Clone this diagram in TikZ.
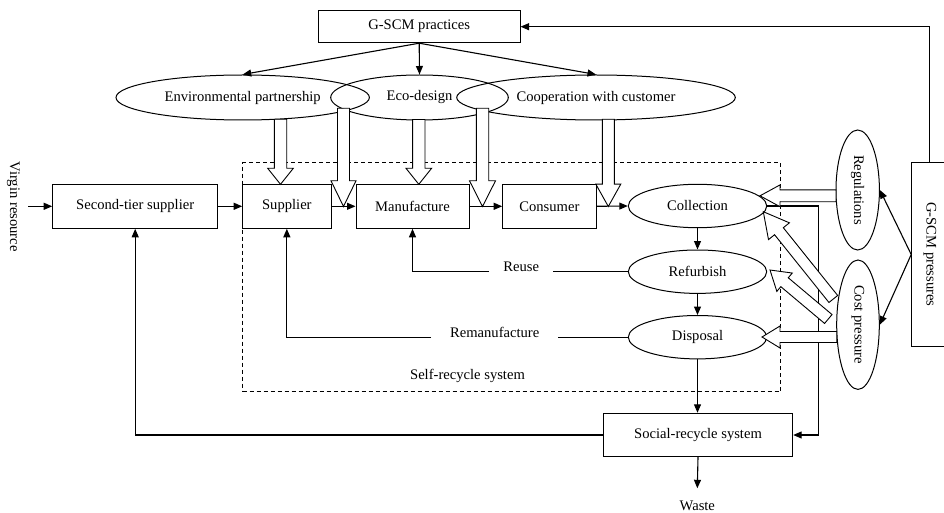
\documentclass[tikz,border=0pt]{standalone}
\usepackage{fontspec}
\setmainfont{Liberation Serif}
\usepackage{graphicx}
\usetikzlibrary{shapes.geometric,arrows.meta,calc}
\tikzset{
  txt/.style={font=\fontsize{14.6}{17}\selectfont},
  box/.style={txt, draw, line width=1pt, inner sep=0pt, align=center},
  oval/.style={txt, draw, ellipse, line width=1pt, inner sep=0pt},
  arr/.style={line width=1.1pt, -{Triangle[length=8.5pt,width=7pt]}},
  ln/.style={line width=1.1pt},
  hollow/.style={draw, fill=white, line width=0.9pt, line join=miter},
  selfbox/.style={draw, dashed, dash pattern=on 4pt off 3pt, line width=0.9pt, inner sep=0pt},
}
% hollow block arrow: start, end, shaft half-width, head half-width, head length
\newcommand{\hollowarr}[5]{%
  \coordinate (ha-base) at ($(#2)!#5!(#1)$);
  \draw[hollow] ($(#1)!#3!90:(#2)$) -- ($(ha-base)!#3!90:(#2)$) -- ($(ha-base)!#4!90:(#2)$)
    -- (#2) -- ($(ha-base)!#4!-90:(#2)$) -- ($(ha-base)!#3!-90:(#2)$) -- ($(#1)!#3!-90:(#2)$) -- cycle;
}
\begin{document}
\begin{tikzpicture}[x=1pt,y=-1pt]
\useasboundingbox (0,0) rectangle (944,513);

% boxes
\node[box, minimum width=201.7pt, minimum height=32pt] (gscm) at (419.2,26.7) {G-SCM practices};
\node[box, minimum width=165pt, minimum height=44pt] (second) at (135.2,206.3) {Second-tier supplier};
\node[box, minimum width=88.3pt, minimum height=44pt] (supplier) at (286.85,206.3) {Supplier};
\node[box, minimum width=113pt, minimum height=44pt] (manuf) at (412.5,206.3) {Manufacture};
\node[box, minimum width=93.3pt, minimum height=44pt] (consumer) at (549.35,206.3) {Consumer};
\node[box, minimum width=189.4pt, minimum height=43.4pt] (social) at (698,435) {Social-recycle system};
\node[box, minimum width=36.3pt, minimum height=184.4pt] (pressures) at (929.85,254.5) {\rotatebox{-90}{G-SCM pressures}};

% ellipses
\node[oval, minimum width=253.4pt, minimum height=45pt] (env) at (242.7,97.5) {Environmental partnership};
\node[oval, minimum width=177.6pt, minimum height=45pt] (eco) at (419.5,97.5) {Eco-design};
\node[oval, minimum width=278.6pt, minimum height=45pt] (coop) at (596,97.5) {Cooperation with customer};
\node[oval, minimum width=138.4pt, minimum height=43.4pt] (collection) at (697.5,206) {Collection};
\node[oval, minimum width=138.4pt, minimum height=43.4pt] (refurbish) at (697.5,271.7) {Refurbish};
\node[oval, minimum width=138.4pt, minimum height=43.4pt] (disposal) at (697.5,337.2) {Disposal};
\node[oval, minimum width=43.4pt, minimum height=120pt] (reg) at (857.7,190) {\rotatebox{-90}{Regulations}};
\node[oval, minimum width=42.6pt, minimum height=129.4pt] (cost) at (858,324.7) {\rotatebox{-90}{Cost pressure}};

% plain labels
\node[txt] (virgin) at (13.3,206.7) {\rotatebox{-90}{Virgin resource}};
\node[txt, inner xsep=14pt, inner ysep=0pt] (reuse) at (521.2,267) {Reuse};
\node[txt, inner xsep=18.7pt, inner ysep=0pt] (reman) at (494.7,332) {Remanufacture};
\node[txt] (selflabel) at (467.5,375.5) {Self-recycle system};
\node[txt] (waste) at (697.3,506) {Waste};

% dashed self-recycle boundary
\node[selfbox, minimum width=537.8pt, minimum height=229.2pt] (selfsys) at (511.6,277.1) {};

\coordinate (virginout) at (28.3,206.3);
\coordinate (wastetip) at (697.3,488.3);
\coordinate (loopc) at (818.3,300);

% loops and return lines
\draw[arr] (collection.east) -| (loopc) |- (social.east);
\draw[arr] (social.west) -| (second.south);
\draw[ln] (refurbish.west) -- (refurbish.west -| reuse.east);
\draw[arr] (refurbish.west -| reuse.west) -| (manuf.south);
\draw[ln] (disposal.west) -- (disposal.west -| reman.east);
\draw[arr] (disposal.west -| reman.west) -| (supplier.south);

% hollow block arrows
\coordinate (h1s) at (280.5,119.3); \coordinate (h1e) at (280.5,184.3);
\coordinate (h2s) at (343.5,108.3); \coordinate (h2e) at (343.5,206.5);
\coordinate (h3s) at (418.8,119.5); \coordinate (h3e) at (418.8,184.3);
\coordinate (h4s) at (482.5,108.3); \coordinate (h4e) at (482.5,206.5);
\coordinate (h5s) at (608.3,119.3); \coordinate (h5e) at (608.3,206.5);
\coordinate (h6s) at (836,195.8);   \coordinate (h6e) at (760,195.8);
\coordinate (h7s) at (836.7,337);   \coordinate (h7e) at (762,337);
\coordinate (h8s) at (833.3,299);   \coordinate (h8e) at (763.3,211.7);
\coordinate (h9s) at (828.3,319);   \coordinate (h9e) at (770,270);
\hollowarr{h1s}{h1e}{6.2pt}{12.8pt}{16pt}
\hollowarr{h2s}{h2e}{6pt}{12.5pt}{25.7pt}
\hollowarr{h3s}{h3e}{6.2pt}{12.8pt}{16pt}
\hollowarr{h4s}{h4e}{6.2pt}{13pt}{25.7pt}
\hollowarr{h5s}{h5e}{6pt}{12.5pt}{22.4pt}
\hollowarr{h6s}{h6e}{5.9pt}{10.9pt}{20pt}
\hollowarr{h7s}{h7e}{5.5pt}{11pt}{18pt}
\hollowarr{h8s}{h8e}{5.6pt}{13.4pt}{25pt}
\hollowarr{h9s}{h9e}{5.8pt}{12pt}{19pt}

% main flow
\draw[arr] (virginout) -- (second.west);
\draw[arr] (second.east) -- (supplier.west);
\draw[arr] (supplier.east) -- (manuf.west);
\draw[arr] (manuf.east) -- (consumer.west);
\draw[arr] (consumer.east) -- (collection.west);
\draw[arr] (collection.south) -- (refurbish.north);
\draw[arr] (refurbish.south) -- (disposal.north);
\draw[arr] (disposal.south) -- (disposal.south |- social.north);
\draw[arr] (social.south) -- (wastetip);

% practices
\draw[arr] (gscm.south) -- (env.north);
\draw[arr] (gscm.south) -- (eco.north);
\draw[arr] (gscm.south) -- (coop.north);
\draw[arr] (pressures.north) |- (gscm.east);
\draw[arr] (pressures.west) -- (reg.east);
\draw[arr] (pressures.west) -- (cost.east);
\end{tikzpicture}
\end{document}
